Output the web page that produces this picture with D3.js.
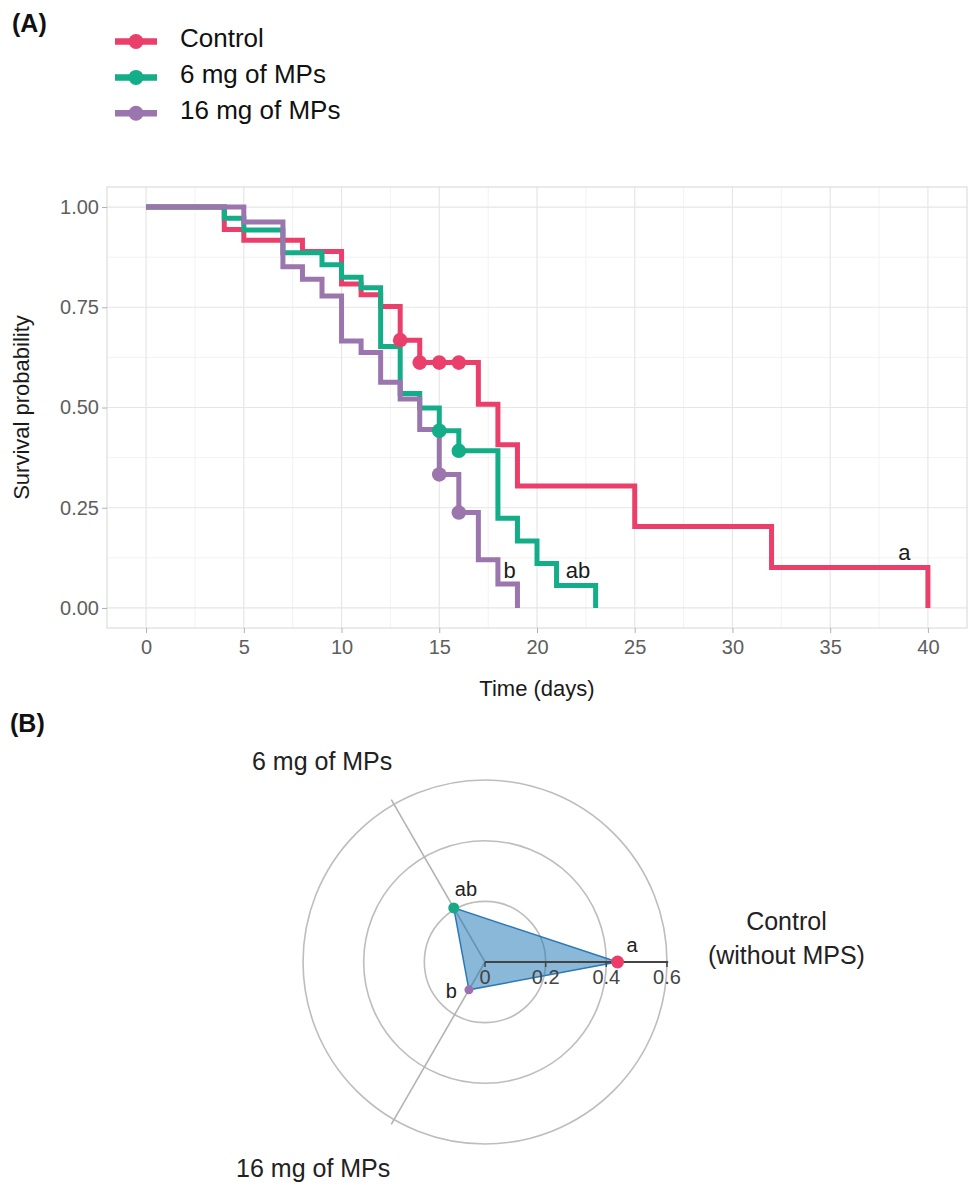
<!DOCTYPE html>
<html>
<head>
<meta charset="utf-8">
<script src="https://cdn.jsdelivr.net/npm/d3@7"></script>
<style>
  body { margin: 0; background: #fff; }
  svg { display: block; font-family: "Liberation Sans", Arial, Helvetica, sans-serif; }
</style>
</head>
<body>
<svg id="chart" width="971" height="1186"></svg>
<script>
// ---------- data, panel A (Kaplan-Meier curves) ----------
const groups = ["Control", "6 mg of MPs", "16 mg of MPs"];

const controlTime = [0, 4, 5, 8, 10, 11, 12, 13, 14, 17, 18, 19, 25, 32, 40];
const controlSurv = [1, 0.944, 0.917, 0.889, 0.808, 0.781, 0.752, 0.668, 0.612, 0.508, 0.407, 0.304, 0.203, 0.101, 0];
const controlCensorTime = [13, 14, 15, 16];
const controlCensorSurv = [0.668, 0.612, 0.612, 0.612];

const mp6Time = [0, 4, 5, 7, 9, 10, 11, 12, 13, 14, 15, 16, 18, 19, 20, 21, 23];
const mp6Surv = [1, 0.972, 0.943, 0.886, 0.856, 0.825, 0.799, 0.652, 0.535, 0.499, 0.442, 0.392, 0.224, 0.167, 0.111, 0.056, 0];
const mp6CensorTime = [15, 16];
const mp6CensorSurv = [0.442, 0.392];

const mp16Time = [0, 5, 7, 8, 9, 10, 11, 12, 13, 14, 15, 16, 17, 18, 19];
const mp16Surv = [1, 0.963, 0.851, 0.82, 0.778, 0.666, 0.637, 0.563, 0.521, 0.445, 0.333, 0.238, 0.12, 0.06, 0];
const mp16CensorTime = [15, 16];
const mp16CensorSurv = [0.333, 0.238];

const xTicks = [0, 5, 10, 15, 20, 25, 30, 35, 40];
const yTicks = [0, 0.25, 0.5, 0.75, 1];

// significance letters (days, probability)
const letterText = ["b", "ab", "a"];
const letterTime = [18.6, 22.1, 38.8];
const letterSurv = [0.095, 0.095, 0.14];

// ---------- data, panel B (radar) ----------
const radarAxes = ["Control", "6 mg of MPs", "16 mg of MPs"];
const radarAngles = [0, 120, 240];          // degrees, counter-clockwise from the right
const radarValues = [0.437, 0.206, 0.106];
const radarLetters = ["a", "ab", "b"];
const radarTicks = [0, 0.2, 0.4, 0.6];

// ---------- styles ----------
const lineColors = ["#eb3f6b", "#13ad87", "#9b75ad"];
const radarDotColors = ["#ec3d69", "#17a985", "#9a70b0"];
const radarDotR = [6.5, 5.5, 4.5];
const font = "\"Liberation Sans\", Arial, sans-serif";

const svg = d3.select("#chart");

// =============== panel A ===============
const series = [
  {name: groups[0], time: controlTime, surv: controlSurv, ct: controlCensorTime, cs: controlCensorSurv},
  {name: groups[1], time: mp6Time, surv: mp6Surv, ct: mp6CensorTime, cs: mp6CensorSurv},
  {name: groups[2], time: mp16Time, surv: mp16Surv, ct: mp16CensorTime, cs: mp16CensorSurv}
];

const panel = {left: 107, right: 967, top: 187, bottom: 628};
const x = d3.scaleLinear().domain([-2, 42]).range([panel.left, panel.right]);
const y = d3.scaleLinear().domain([-0.05, 1.05]).range([panel.bottom, panel.top]);

svg.append("text").attr("x", 12).attr("y", 32)
  .attr("font-size", 25).attr("font-weight", "bold").attr("fill", "#111").text("(A)");

// grid
const grid = svg.append("g");
const xMinor = d3.range(2.5, 40, 5), yMinor = d3.range(0.125, 1, 0.25);
grid.selectAll(".xmin").data(xMinor).join("line")
  .attr("x1", d => x(d)).attr("x2", d => x(d)).attr("y1", panel.top).attr("y2", panel.bottom)
  .attr("stroke", "#f1f1f1").attr("stroke-width", 0.9);
grid.selectAll(".ymin").data(yMinor).join("line")
  .attr("y1", d => y(d)).attr("y2", d => y(d)).attr("x1", panel.left).attr("x2", panel.right)
  .attr("stroke", "#f1f1f1").attr("stroke-width", 0.9);
grid.selectAll(".xmaj").data(xTicks).join("line")
  .attr("x1", d => x(d)).attr("x2", d => x(d)).attr("y1", panel.top).attr("y2", panel.bottom)
  .attr("stroke", "#e6e6e6").attr("stroke-width", 1.2);
grid.selectAll(".ymaj").data(yTicks).join("line")
  .attr("y1", d => y(d)).attr("y2", d => y(d)).attr("x1", panel.left).attr("x2", panel.right)
  .attr("stroke", "#e6e6e6").attr("stroke-width", 1.2);
svg.append("rect").attr("x", panel.left).attr("y", panel.top)
  .attr("width", panel.right - panel.left).attr("height", panel.bottom - panel.top)
  .attr("fill", "none").attr("stroke", "#d6d6d6").attr("stroke-width", 1);

// axes
const xAxis = svg.append("g").attr("transform", `translate(0,${panel.bottom})`)
  .call(d3.axisBottom(x).tickValues(xTicks).tickSize(5).tickPadding(7));
const yAxis = svg.append("g").attr("transform", `translate(${panel.left},0)`)
  .call(d3.axisLeft(y).tickValues(yTicks).tickSize(5).tickPadding(3).tickFormat(d3.format(".2f")));
[xAxis, yAxis].forEach(a => {
  a.select(".domain").remove();
  a.selectAll(".tick line").attr("stroke", "#b0b0b0");
  a.selectAll(".tick text").attr("font-size", 20).attr("font-family", font).attr("fill", "#5e5e5e");
});

svg.append("text").attr("x", (panel.left + panel.right) / 2).attr("y", 696)
  .attr("text-anchor", "middle").attr("font-size", 22).attr("fill", "#1a1a1a").text("Time (days)");
svg.append("text").attr("transform", `translate(29,${(panel.top + panel.bottom) / 2}) rotate(-90)`)
  .attr("text-anchor", "middle").attr("font-size", 22).attr("fill", "#1a1a1a").text("Survival probability");

// step curves
const step = d3.line().x(d => x(d[0])).y(d => y(d[1])).curve(d3.curveStepAfter);
svg.append("g").selectAll("path").data(series).join("path")
  .attr("d", s => step(s.time.map((t, i) => [t, s.surv[i]])))
  .attr("fill", "none")
  .attr("stroke", (s, i) => lineColors[i])
  .attr("stroke-width", 5)
  .attr("stroke-linejoin", "miter");

// censor marks
series.forEach((s, k) => {
  svg.append("g").selectAll("circle").data(s.ct).join("circle")
    .attr("cx", d => x(d)).attr("cy", (d, i) => y(s.cs[i])).attr("r", 7.3)
    .attr("fill", lineColors[k]);
});

// letters
svg.append("g").selectAll("text").data(letterText).join("text")
  .attr("x", (d, i) => x(letterTime[i])).attr("y", (d, i) => y(letterSurv[i]) + 8)
  .attr("text-anchor", "middle").attr("font-size", 22).attr("fill", "#1a1a1a")
  .text(d => d);

// legend
const legend = svg.append("g");
const legY = d3.scalePoint().domain(groups).range([41.5, 113.3]);
groups.forEach((g, i) => {
  const row = legend.append("g").attr("transform", `translate(0,${legY(g)})`);
  row.append("line").attr("x1", 115).attr("x2", 157).attr("stroke", lineColors[i]).attr("stroke-width", 6.5);
  row.append("circle").attr("cx", 136).attr("r", 7.5).attr("fill", lineColors[i]);
  row.append("text").attr("x", 180).attr("y", 5.5).attr("font-size", 26).attr("fill", "#111").text(g);
});

// =============== panel B ===============
svg.append("text").attr("x", 10).attr("y", 732)
  .attr("font-size", 25).attr("font-weight", "bold").attr("fill", "#111").text("(B)");

const cx = 485, cy = 962;
const r = d3.scaleLinear().domain([0, 0.61]).range([0, 185]);
const rad = deg => Math.PI / 2 - deg * Math.PI / 180;   // d3 radial angle
const radar = svg.append("g").attr("transform", `translate(${cx},${cy})`);

radar.selectAll(".ring").data(radarTicks.filter(d => d > 0)).join("circle")
  .attr("r", d => r(d)).attr("fill", "none").attr("stroke", "#bdbdbd").attr("stroke-width", 1.6);

radar.selectAll(".spoke").data(radarAngles.slice(1)).join("line")
  .attr("x2", a => d3.pointRadial(rad(a), r(0.618))[0])
  .attr("y2", a => d3.pointRadial(rad(a), r(0.618))[1])
  .attr("stroke", "#b3b3b3").attr("stroke-width", 1.6);

const shape = d3.lineRadial()
  .angle((d, i) => rad(radarAngles[i]))
  .radius(d => r(d))
  .curve(d3.curveLinearClosed);
radar.append("path").attr("d", shape(radarValues))
  .attr("fill", "#1f77b4").attr("fill-opacity", 0.52)
  .attr("stroke", "#2b78b8").attr("stroke-width", 1.5);

// radial axis along the Control direction
radar.append("line").attr("x1", 0).attr("x2", r(0.604)).attr("stroke", "#444").attr("stroke-width", 2);
radar.selectAll(".rtick").data(radarTicks).join("line")
  .attr("x1", d => r(d)).attr("x2", d => r(d)).attr("y1", 0).attr("y2", 5)
  .attr("stroke", "#444").attr("stroke-width", 1.5);
radar.selectAll(".rlab").data(radarTicks).join("text")
  .attr("x", d => r(d)).attr("y", 22)
  .attr("text-anchor", "middle").attr("font-size", 20).attr("fill", "#444")
  .text(d => d3.format("~g")(d));

// points
const pts = radarValues.map((v, i) => d3.pointRadial(rad(radarAngles[i]), r(v)));
radar.selectAll(".dot").data(pts).join("circle")
  .attr("cx", p => p[0]).attr("cy", p => p[1])
  .attr("r", (p, i) => radarDotR[i]).attr("fill", (p, i) => radarDotColors[i]);

// letters beside the points
const letterOffset = [[9, 7, "start"], [1, -12, "start"], [-12, 8, "end"]];
radar.selectAll(".lt").data(radarLetters).join("text")
  .attr("x", (d, i) => pts[i][0] + letterOffset[i][0])
  .attr("y", (d, i) => pts[i][1] + letterOffset[i][1] - (i === 0 ? 17 : 0))
  .attr("text-anchor", (d, i) => letterOffset[i][2])
  .attr("font-size", 20).attr("fill", "#222")
  .text(d => d);

// axis titles
const tip = radarAngles.map(a => d3.pointRadial(rad(a), r(0.618)));
const ctl = radar.append("text").attr("text-anchor", "middle").attr("font-size", 25).attr("fill", "#222");
ctl.append("tspan").attr("x", tip[0][0] + 114).attr("y", tip[0][1] - 32).text(radarAxes[0]);
ctl.append("tspan").attr("x", tip[0][0] + 114).attr("y", tip[0][1] + 2).text("(without MPS)");
radar.append("text").attr("x", tip[1][0] + 1).attr("y", tip[1][1] - 30)
  .attr("text-anchor", "end").attr("font-size", 25).attr("fill", "#222").text(radarAxes[1]);
radar.append("text").attr("x", tip[2][0] - 1).attr("y", tip[2][1] + 53)
  .attr("text-anchor", "end").attr("font-size", 25).attr("fill", "#222").text(radarAxes[2]);
</script>
</body>
</html>
